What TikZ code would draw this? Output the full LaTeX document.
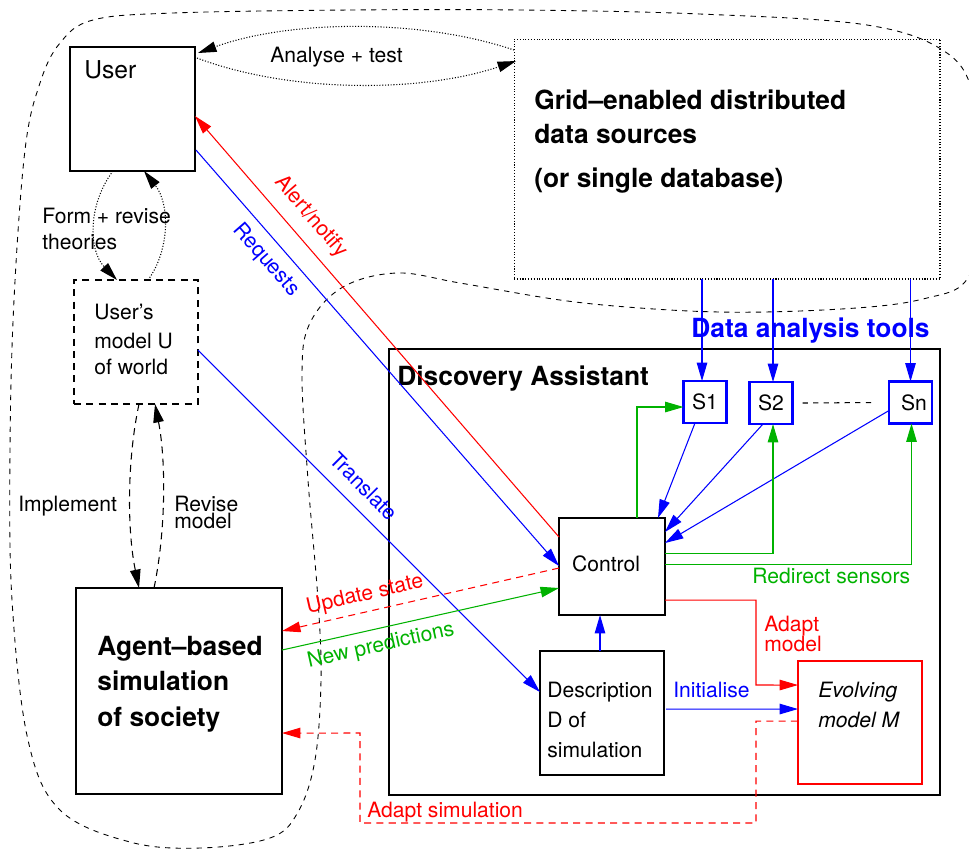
\documentclass[tikz,border=0pt]{standalone}
\usepackage{fontspec}
\setmainfont{TeX Gyre Heros}
\usetikzlibrary{arrows.meta,calc}
\definecolor{dgreen}{RGB}{0,178,0}
\begin{document}
\begin{tikzpicture}[x=0.02cm,y=-0.02cm,
  box/.style={draw,line width=0.7pt,inner sep=0,outer sep=0},
  sbox/.style={draw=blue,line width=1.4pt,inner sep=0,outer sep=0,minimum width=0.86cm,minimum height=0.84cm,font=\fontsize{12}{14}\selectfont},
  txt/.style={inner sep=0,font=\fontsize{12}{14}\selectfont},
  txtb/.style={inner sep=0,font=\fontsize{14}{16}\selectfont},
  btxt/.style={inner sep=0,font=\fontsize{15}{18}\selectfont\bfseries},
  conn/.style={line width=0.6pt,-{Triangle[length=10.5pt,width=6pt]}},
  line/.style={line width=0.6pt},
  dotl/.style={dash pattern=on 0.6pt off 1pt},
  dashl/.style={dash pattern=on 4pt off 3pt},
  rdash/.style={dash pattern=on 4pt off 3pt}]
\useasboundingbox (0,0) rectangle (969,850);
% outer dashed region
\draw[line width=0.5pt,dash pattern=on 3pt off 3pt] plot[smooth cycle,tension=0.6] coordinates {
 (173,13) (350,10) (520,10) (700,14) (867,25) (947,53) (975,100) (985,180) (978,250) (962,285)
 (927,298) (880,306) (800,311) (720,312) (640,308) (560,300) (460,283) (397,273) (343,287) (310,323)
 (302,373) (308,480) (318,600) (321,680) (315,760) (298,812) (270,838) (200,848) (130,842) (60,810)
 (28,740) (12,600) (10,450) (14,300) (25,150) (40,83) (60,43) (93,20)};
% boxes
\node[box,minimum width=2.5cm,minimum height=2.48cm] (user) at (132.5,109) {};
\node[box,dashl,minimum width=2.48cm,minimum height=2.48cm] (model) at (136,342) {};
\node[box,minimum width=4.12cm,minimum height=4.12cm] (agent) at (179,691) {};
\node[box,dotl,line width=0.6pt,minimum width=8.52cm,minimum height=4.8cm] (grid) at (727,159) {};
\node[box,minimum width=11.02cm,minimum height=8.92cm] (da) at (664.5,572) {};
\node[sbox] (s1) at (705,402) {S1};
\node[sbox] (s2) at (771,403) {S2};
\node[sbox] (sn) at (910.5,402.5) {\hspace{4pt}Sn};
\node[box,minimum width=2.12cm,minimum height=1.94cm] (control) at (612,566.5) {};
\node[box,minimum width=2.48cm,minimum height=2.48cm] (desc) at (602,713) {};
\node[box,draw=red,minimum width=2.48cm,minimum height=2.46cm] (evolve) at (860,722.5) {};
% texts
\node[txtb,anchor=base west] (usertxt) at (84,78) {User};
\node[txt,anchor=base west] (antxt) at (270,62) {Analyse + test};
\node[txt,anchor=base west] (fr1) at (42,223) {Form + revise};
\node[txt,anchor=base west] (fr2) at (42,249) {theories};
\node[txt,anchor=base west] (m1) at (94,319) {User’s};
\node[txt,anchor=base west] (m2) at (94,348) {model U};
\node[txt,anchor=base west] (m3) at (94,374) {of world};
\node[txt,anchor=base west] (impl) at (18,511) {Implement};
\node[txt,anchor=base west] (rev1) at (174,511) {Revise};
\node[txt,anchor=base west] (rev2) at (174,528) {model};
\node[btxt,anchor=base west] (ag1) at (97,655) {Agent–based};
\node[btxt,anchor=base west] (ag2) at (97,690) {simulation};
\node[btxt,anchor=base west] (ag3) at (97,726) {of society};
\node[btxt,anchor=base west] (g1) at (534,109) {Grid–enabled distributed};
\node[btxt,anchor=base west] (g2) at (534,143) {data sources};
\node[btxt,anchor=base west] (g3) at (534,187) {(or single database)};
\node[btxt,text=blue,anchor=base west] (dat) at (691,337) {Data analysis tools};
\node[btxt,anchor=base west] (datxt) at (397,385) {Discovery Assistant};
\node[txt,anchor=base] (ctxt) at (606,571) {Control};
\node[txt,text=dgreen,anchor=base west] (redir) at (752,583) {Redirect sensors};
\node[txt,text=blue,anchor=base west] (init) at (673,697) {Initialise};
\node[txt,anchor=base west] (d1) at (547,697) {Description};
\node[txt,anchor=base west] (d2) at (547,727) {D of};
\node[txt,anchor=base west] (d3) at (547,757) {simulation};
\node[txt,anchor=base west,font=\fontsize{12}{14}\selectfont\itshape] (e1) at (818,697) {Evolving};
\node[txt,anchor=base west,font=\fontsize{12}{14}\selectfont\itshape] (e2) at (818,727) {model M};
\node[txt,text=red,anchor=base west] (am1) at (764,631) {Adapt};
\node[txt,text=red,anchor=base west] (am2) at (764,651) {model};
\node[txt,text=red,anchor=base west] (asim) at (367,817) {Adapt simulation};
\node[txt,text=blue,rotate=-49] (reqtxt) at (266,260) {Requests};
\node[txt,text=red,rotate=-49] (alerttxt) at (311,217) {Alert/notify};
\node[txt,text=blue,rotate=-45] (trtxt) at (364,486) {Translate};
\node[txt,text=red,rotate=12.8] (updtxt) at (365,595) {Update state};
\node[txt,text=dgreen,rotate=12.6] (newtxt) at (381,646) {New predictions};
% user <-> grid
\draw[conn,dotl] ($(grid.north west)+(0,11)$) .. controls +(-95,-32) and +(91,-33) .. ($(user.north east)+(3,6)$);
\draw[conn,dotl] ($(user.north east)+(2,11)$) .. controls +(93,35) and +(-96,32) .. ($(grid.north west)+(2,22)$);
% user <-> model
\draw[conn,dotl] ($(user.south west)+(43,0)$) .. controls +(-25,33) and +(-29,-30) .. ($(model.north west)+(43,0)$);
\draw[conn,dotl] ($(model.north west)+(74,0)$) .. controls +(22,-30) and +(26,33) .. ($(user.south west)+(74,0)$);
% model <-> agent
\draw[conn,dashl] ($(model.south west)+(65,0)$) .. controls +(-12,56) and +(-12,-58) .. ($(agent.north west)+(63,0)$);
\draw[conn,dashl] ($(agent.north west)+(78,0)$) .. controls +(12,-58) and +(11,56) .. ($(model.south west)+(81,0)$);
% long diagonals
\draw[conn,red] ($(control.north west)+(0,19)$) -- ($(user.north east)+(0,69)$);
\draw[conn,blue] ($(user.north east)+(1,103)$) -- ($(control.north west)+(0,48)$);
\draw[conn,blue] ($(model.north east)+(0,70)$) -- ($(desc.north west)+(0,41)$);
% control <-> agent
\draw[conn,red,rdash] ($(control.north west)+(0,50)$) -- ($(agent.north east)+(0,43)$);
\draw[conn,dgreen] ($(agent.north east)+(0,62)$) -- ($(control.north west)+(0,70)$);
% adapt simulation
\draw[conn,red,rdash] ($(evolve.north west)+(0,60)$) -| (756,823) -| (360,733) -- ($(agent.north east)+(0,145)$);
% adapt model
\draw[conn,red] ($(control.north east)+(0,82)$) -| (756,685) -- ($(evolve.north west)+(0,24)$);
% initialise
\draw[conn,blue] ($(desc.north east)+(2,58)$) -- ($(evolve.north west)+(0,48)$);
% desc -> control
\draw[conn,blue] ($(desc.north)+(-2,0)$) -- ($(control.south)+(-12,0)$);
% grid -> sensors
\draw[conn,blue] ($(s1.north |- grid.south)+(-3,0)$) -- ($(s1.north)+(-3,0)$);
\draw[conn,blue] ($(s2.north |- grid.south)+(2,0)$) -- ($(s2.north)+(2,0)$);
\draw[conn,blue] (sn.north |- grid.south) -- (sn.north);
% sensors -> control
\draw[conn,blue] ($(s1.south)+(-10,0)$) -- ($(control.north east)+(-7,0)$);
\draw[conn,blue] ($(s2.south)+(-8,0)$) -- ($(control.north east)+(0,14)$);
\draw[conn,blue] ($(sn.north west)+(0,29)$) -- ($(control.north east)+(0,25)$);
% redirect sensors
\draw[conn,dgreen] ($(control.north west)+(78,0)$) |- ($(s1.west)+(0,5)$);
\draw[conn,dgreen] ($(control.north east)+(0,35)$) -| ($(s2.south)+(2,0)$);
\draw[conn,dgreen] ($(control.north east)+(0,46)$) -| ($(sn.south)+(1,0)$);
\draw[line,dashed] ($(s2.east)+(10,0)$) -- ($(sn.west)+(-14,0)$);
\end{tikzpicture}
\end{document}
